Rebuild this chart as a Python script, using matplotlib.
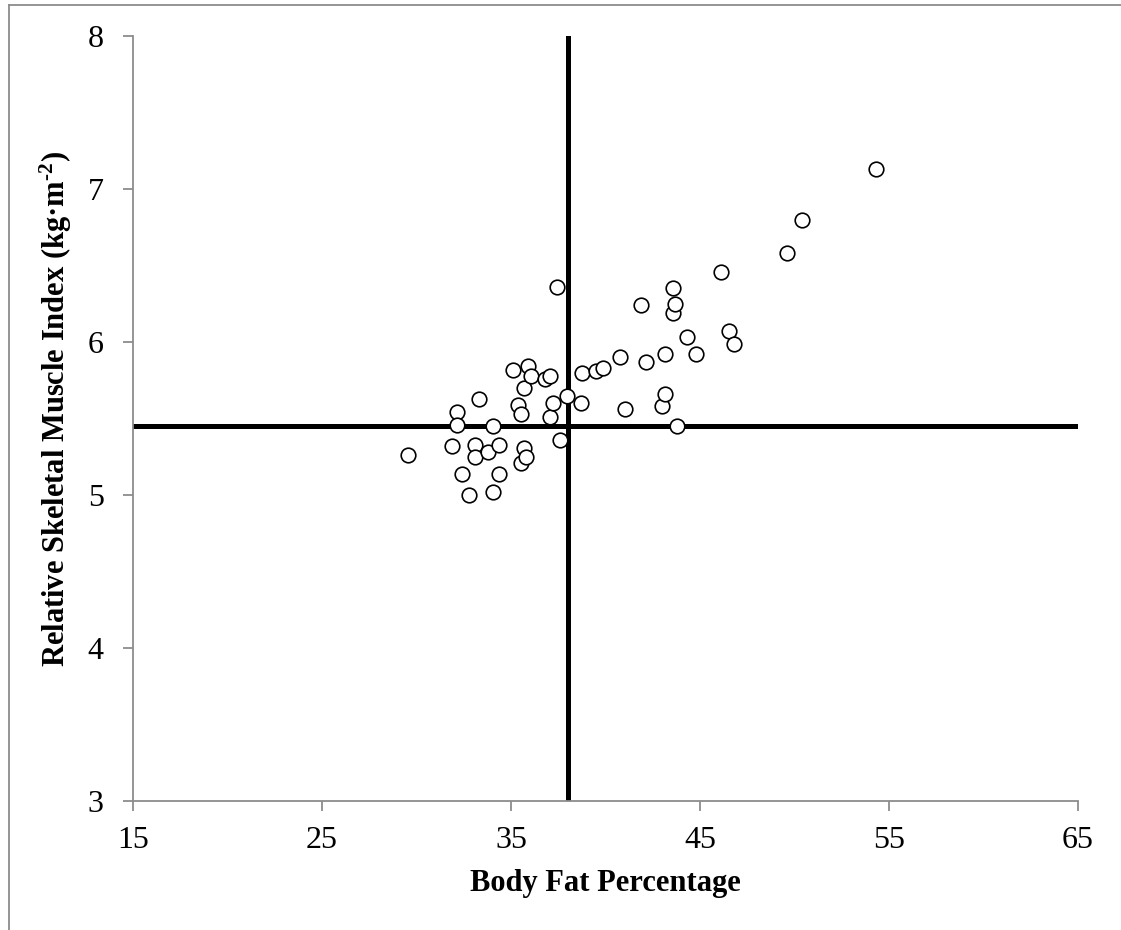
import matplotlib
matplotlib.use("Agg")
import matplotlib.pyplot as plt
from matplotlib.lines import Line2D

plt.rcParams['font.family'] = ['Liberation Serif', 'DejaVu Serif']
plt.rcParams['mathtext.fontset'] = 'custom'
plt.rcParams['mathtext.rm'] = 'Liberation Serif:bold'
plt.rcParams['mathtext.it'] = 'Liberation Serif:bold'
plt.rcParams['mathtext.bf'] = 'Liberation Serif:bold'

# body fat % and relative skeletal muscle index
body_fat = [29.57, 31.86, 32.16, 32.16, 32.42, 32.78, 33.10, 33.10, 33.31, 33.80,
            34.06, 34.06, 34.37, 34.37, 35.09, 35.39, 35.51, 35.51, 35.69, 35.71,
            35.78, 35.92, 36.04, 36.80, 37.06, 37.06, 37.24, 37.45, 37.59, 37.98,
            38.74, 38.73, 39.50, 39.89, 40.77, 41.06, 41.86, 42.12, 43.01, 43.15,
            43.15, 43.56, 43.56, 43.68, 43.80, 44.33, 44.79, 46.11, 46.53, 46.80,
            49.59, 50.40, 54.31]
rsmi = [5.26, 5.32, 5.54, 5.46, 5.14, 5.00, 5.33, 5.25, 5.63, 5.28,
        5.45, 5.02, 5.33, 5.14, 5.82, 5.59, 5.53, 5.21, 5.31, 5.70,
        5.25, 5.84, 5.78, 5.76, 5.78, 5.51, 5.60, 6.36, 5.36, 5.65,
        5.80, 5.60, 5.81, 5.83, 5.90, 5.56, 6.24, 5.87, 5.58, 5.66,
        5.92, 6.35, 6.19, 6.25, 5.45, 6.03, 5.92, 6.46, 6.07, 5.99,
        6.58, 6.80, 7.13]

fat_cut = 38.0
rsmi_cut = 5.45

fig = plt.figure(figsize=(11.21, 9.30), dpi=100)
ax = fig.add_axes([0.1186, 0.1387, 0.843, 0.8226])

ax.plot(body_fat, rsmi, 'o', ms=10.5, mfc='white', mec='black', mew=1.2, zorder=3)
ax.axvline(fat_cut, color='black', lw=3.6, zorder=2)
ax.axhline(rsmi_cut, color='black', lw=3.6, zorder=2)

ax.set_xlim(15, 65)
ax.set_ylim(3, 8)
ax.set_xticks([15, 25, 35, 45, 55, 65])
ax.set_yticks([3, 4, 5, 6, 7, 8])

for s in ['top', 'right']:
    ax.spines[s].set_visible(False)
for s in ['left', 'bottom']:
    ax.spines[s].set_color('#8c8c8c')
    ax.spines[s].set_linewidth(1.3)
ax.tick_params(direction='out', length=7, width=1.3, color='#8c8c8c',
               labelsize=23, labelcolor='black')
ax.tick_params(axis='x', pad=11)
ax.tick_params(axis='y', pad=14)

ax.set_xlabel('Body Fat Percentage', fontsize=22, fontweight='bold', labelpad=10)
ax.set_ylabel(r'Relative Skeletal Muscle Index (kg·m$^{\text{-2}}$)', fontsize=22,
              fontweight='bold')
ax.yaxis.set_label_coords(-0.062, 0.512)

# thin grey frame at the top and left of the picture
fig.add_artist(Line2D([9/1121, 1], [1 - 5/930, 1 - 5/930], color='#8c8c8c', lw=1.3))
fig.add_artist(Line2D([9/1121, 9/1121], [0, 1 - 5/930], color='#8c8c8c', lw=1.3))

fig.savefig('out.png', dpi=100)
